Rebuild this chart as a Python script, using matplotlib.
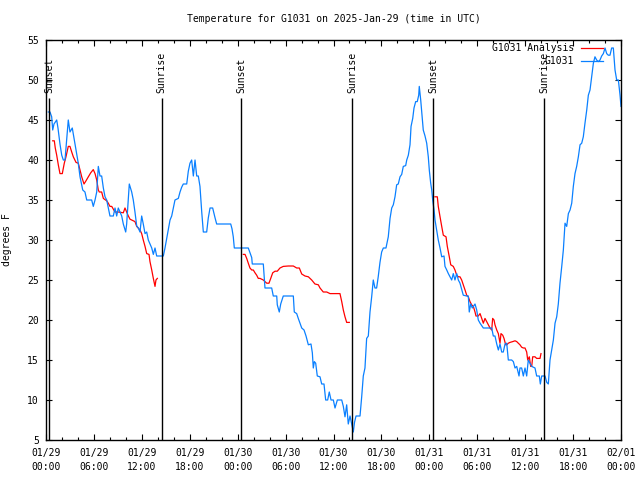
import matplotlib
matplotlib.use("Agg")
import matplotlib.pyplot as plt
from matplotlib.ticker import MultipleLocator, FixedLocator
from matplotlib.lines import Line2D

# ---- data (x in hours since 2025-01-29 00:00 UTC, temperature in deg F) ----
obs_hours = [0.29, 0.5, 0.71, 0.84, 1.0, 1.34, 1.5, 1.75, 1.97, 2.17, 2.38, 2.59, 2.79, 3.0, 3.29, 3.63,
             4.04, 4.26, 4.6, 4.88, 5.1, 5.72, 5.92, 6.14, 6.35, 6.55, 6.76, 6.97, 7.18, 7.39, 7.6, 8.01,
             8.43, 8.64, 8.85, 9.05, 9.48, 9.68, 9.98, 10.1, 10.43, 10.73, 10.93, 11.14, 11.36, 11.56,
             11.77, 11.98, 12.18, 12.4, 12.61, 12.81, 13.02, 13.24, 13.44, 13.65, 13.86, 14.69, 14.9,
             15.31, 15.53, 15.74, 16.15, 16.57, 16.78, 16.99, 17.19, 17.62, 17.82, 18.03, 18.24, 18.45,
             18.66, 18.87, 19.07, 19.28, 19.5, 19.7, 20.12, 20.32, 20.54, 20.87, 21.16, 21.37, 23.13,
             23.29, 23.45, 23.58, 25.33, 25.54, 25.76, 25.83, 27.21, 27.42, 28.26, 28.46, 28.89, 28.96,
             29.21, 29.39, 29.71, 30.97, 31.09, 31.39, 31.59, 31.81, 32.02, 32.31, 32.56, 32.85, 33.18,
             33.35, 33.47, 33.6, 33.77, 33.97, 34.31, 34.52, 34.81, 35.02, 35.27, 35.47, 35.69, 35.98,
             36.19, 36.48, 37.03, 37.23, 37.44, 37.65, 37.85, 38.07, 38.28, 38.48, 38.63, 38.82, 39.32,
             39.53, 39.73, 39.94, 40.15, 40.36, 40.57, 40.78, 40.94, 40.98, 41.19, 41.4, 41.6, 41.82,
             42.03, 42.24, 42.57, 42.86, 43.08, 43.29, 43.49, 43.7, 43.91, 44.11, 44.33, 44.54, 44.74,
             45.04, 45.17, 45.37, 45.58, 45.71, 45.92, 46.08, 46.29, 46.49, 46.67, 46.74, 46.92, 47.05,
             47.24, 47.46, 47.67, 47.87, 48.0, 48.17, 48.3, 48.42, 48.59, 48.71, 48.92, 49.12, 49.34,
             49.55, 49.84, 49.96, 50.18, 50.38, 50.8, 51.0, 51.21, 51.43, 51.63, 51.84, 52.25, 52.68,
             52.88, 53.0, 53.18, 53.38, 53.51, 53.72, 53.93, 54.13, 54.35, 54.76, 55.81, 56.01, 56.22,
             56.44, 56.64, 56.85, 57.06, 57.26, 57.48, 57.69, 57.89, 58.31, 58.52, 58.73, 58.94, 59.23,
             59.35, 59.56, 59.77, 59.98, 60.19, 60.39, 60.61, 60.82, 61.23, 61.44, 61.77, 61.9, 62.07,
             62.49, 62.7, 62.9, 63.11, 63.32, 63.53, 63.74, 63.95, 64.15, 64.36, 64.58, 64.78, 64.99,
             65.2, 65.41, 65.62, 65.83, 66.03, 66.24, 66.45, 66.66, 66.87, 67.08, 67.28, 67.49, 67.71,
             67.91, 68.12, 68.33, 68.54, 68.74, 68.95, 69.16, 69.37, 69.58, 69.79, 70.0, 70.21, 70.41,
             70.62, 70.83, 71.04, 71.25, 71.46, 71.67, 71.88, 72.0]
obs_temps = [46, 46, 45.4, 43.75, 44.5, 45, 44, 42, 40.6, 40, 40, 42.5, 45, 43.5, 44, 42,
             39.6, 37.9, 36.25, 36, 35, 35, 34.2, 35, 36, 39.2, 38, 38, 36.5, 35.4, 35, 33,
             33, 34, 33, 34, 33, 32, 31, 32, 37, 36, 35, 33.5, 31.75, 31.5,
             31, 33, 32, 30.8, 31, 30, 29.5, 29, 28.2, 29, 28, 28, 29,
             31.25, 32.5, 33, 35, 35.2, 36, 36.6, 37, 37, 38.6, 39.6, 40, 38,
             40, 38, 38, 36.7, 33.5, 31, 31, 32.75, 34, 34, 32.8, 32, 32,
             31.4, 30.4, 29, 29, 28.4, 27.8, 27, 27, 24, 24, 23, 23, 21.9,
             21, 22, 23, 23, 21, 20.8, 20.2, 19.6, 19, 18.75, 18, 16.9, 17,
             15.9, 14, 14.8, 14.6, 13, 12.9, 12, 12, 10, 10, 11, 10, 10,
             9, 10, 10, 9.2, 7.9, 9.4, 7, 8, 7, 6, 7.2, 8, 8,
             10.4, 13, 14, 17.7, 18, 21, 22.9, 24.5, 25, 24, 24, 25.4, 27.2,
             28.5, 29, 29, 30.4, 32.7, 34, 34.4, 35.4, 36.9, 37, 37.9, 38.2, 39.2,
             39.3, 40, 40.6, 41.9, 44.2, 45.2, 46.5, 47.3, 47.3, 48.1, 49.2, 47.5, 46,
             43.75, 43, 42.1, 40.4, 38.7, 37.1, 36.25, 35, 33.75, 32.5, 31.25, 30, 29,
             27.9, 28, 26.7, 26.25, 25.8, 25, 25.8, 25, 25.8, 25, 24.6, 23.1, 23,
             23, 21, 22, 21.5, 21.7, 22, 21.25, 20, 19.6, 19, 19, 18, 18,
             17, 16.25, 17, 16, 16, 17, 17.1, 15, 15, 14.8, 14, 14.2, 13,
             14, 14, 13, 14, 13, 15, 14.6, 14.2, 14, 13, 13, 12, 13,
             13, 12.2, 12, 15, 16.25, 17.5, 19.6, 20.4, 22, 24.6, 26.7, 28.75, 32.1,
             31.7, 33.3, 33.75, 34.6, 36.7, 38.3, 39.2, 40.4, 41.9, 42.1, 42.9, 44.6, 46.25,
             48.1, 48.75, 50.4, 52.1, 52.9, 52.5, 52.3, 52.5, 53, 53.3, 54, 53.3, 53.1,
             53.1, 54, 54, 51.25, 50, 50, 48.1, 46.7]

ana1_hours = [0.84, 1.04, 1.16, 1.34, 1.54, 1.75, 2.04, 2.29, 2.5, 2.79, 3.0, 3.22, 3.42, 3.76, 4.04,
              4.26, 4.47, 4.76, 5.01, 5.3, 5.6, 5.92, 6.14, 6.35, 6.55, 6.67, 6.97, 7.18, 7.6, 7.8,
              8.01, 8.23, 8.64, 9.05, 9.68, 9.89, 10.1, 10.31, 10.52, 10.73, 11.14, 11.36, 11.77,
              11.98, 12.18, 12.4, 12.61, 12.9, 13.02, 13.24, 13.44, 13.65, 13.77, 13.94]
ana1_temps = [42.4, 42.4, 41.5, 40.6, 39.4, 38.3, 38.3, 39.6, 40.4, 41.7, 41.7, 41, 40.4, 39.7, 39.6,
              38.75, 37.9, 37, 37.4, 37.9, 38.4, 38.8, 38.3, 37.5, 36.25, 36, 36, 35.2, 34.9, 34.6,
              34.2, 34.2, 33.5, 33.5, 33.4, 34, 33.5, 33, 32.6, 32.5, 32.3, 31.7, 31.25,
              30.8, 30, 29.2, 28.3, 28.2, 27.3, 26.25, 25.2, 24.2, 25, 25.2]

ana2_hours = [24.71, 24.92, 25.13, 25.33, 25.54, 25.76, 25.96, 26.17, 26.38, 26.58, 26.8, 27.21, 27.42,
              27.64, 27.92, 28.14, 28.39, 28.68, 28.96, 29.3, 29.71, 30.34, 30.97, 31.39, 31.72, 32.02,
              32.43, 32.85, 33.27, 33.68, 34.1, 34.31, 34.72, 35.15, 35.56, 36.81, 37.03, 37.23, 37.44,
              37.65, 37.98]
ana2_temps = [28.2, 28.2, 27.7, 27.1, 26.5, 26.25, 26.25, 25.9, 25.6, 25.2, 25.2, 25, 24.8,
              24.6, 24.6, 25.2, 25.9, 26.1, 26.1, 26.5, 26.7, 26.75, 26.75, 26.5, 26.5, 25.75,
              25.5, 25.4, 25, 24.5, 24.4, 24, 23.5, 23.5, 23.3, 23.3, 22.3, 21.25, 20.4,
              19.7, 19.7]

ana3_hours = [48.71, 49.0, 49.12, 49.34, 49.55, 49.75, 50.09, 50.25, 50.5, 50.68, 51.0, 51.21, 51.43,
              51.63, 51.84, 52.05, 52.25, 52.47, 52.68, 52.88, 53.09, 53.3, 53.51, 53.72, 53.84, 54.13,
              54.35, 54.56, 54.76, 54.97, 55.18, 55.39, 55.6, 55.81, 55.93, 56.1, 56.22, 56.44, 56.64,
              56.85, 56.97, 57.19, 57.35, 57.56, 57.69, 57.89, 58.1, 58.44, 58.73, 58.94, 59.14, 59.35,
              59.56, 59.77, 59.98, 60.19, 60.32, 60.52, 60.69, 60.82, 60.94, 61.23, 61.44, 61.86, 61.98]
ana3_temps = [35.4, 35.4, 34.2, 32.9, 31.7, 30.6, 30.4, 29.2, 27.9, 26.9, 26.7, 26.25, 25.6,
              25.4, 25.4, 25, 24.4, 23.75, 23.1, 22.9, 22.3, 21.9, 21.7, 21, 20.5, 20.5,
              20.8, 20.2, 19.6, 20.2, 19.8, 19.4, 19, 18.75, 20.2, 20, 19.4, 18.75, 18.3,
              17.1, 18.3, 18.1, 17.7, 16.9, 16.9, 17.1, 17.2, 17.3, 17.4, 17.3, 17.1, 16.9,
              16.6, 16.5, 16.5, 16, 15, 15.4, 14.2, 14.2, 15.4, 15.4, 15.2, 15.2, 15.8]

event_hours = [0.41, 14.49, 24.42, 38.36, 48.5, 62.4]
event_labels = ["Sunset", "Sunrise", "Sunset", "Sunrise", "Sunset", "Sunrise"]

xtick_hours = [0, 6, 12, 18, 24, 30, 36, 42, 48, 54, 60, 66, 72]
xtick_labels = ["01/29\n00:00", "01/29\n06:00", "01/29\n12:00", "01/29\n18:00",
                "01/30\n00:00", "01/30\n06:00", "01/30\n12:00", "01/30\n18:00",
                "01/31\n00:00", "01/31\n06:00", "01/31\n12:00", "01/31\n18:00",
                "02/01\n00:00"]

title = "Temperature for G1031 on 2025-Jan-29 (time in UTC)"

# ---- drawing ----
FONT = "DejaVu Sans Mono"
FS = 7
plt.rcParams["font.family"] = [FONT]
plt.rcParams["font.size"] = FS

RED = "#ff0000"
BLUE = "#0a80ff"

fig = plt.figure(figsize=(6.4, 4.8), dpi=100)
ax = fig.add_axes([46 / 640, 40 / 480, 575 / 640, 400 / 480])

ax.set_xlim(0, 72)
ax.set_ylim(5, 55)

for seg_h, seg_t in [(ana1_hours, ana1_temps), (ana2_hours, ana2_temps), (ana3_hours, ana3_temps)]:
    ax.plot(seg_h, seg_t, color=RED, lw=0.9)
ax.plot(obs_hours, obs_temps, color=BLUE, lw=0.9)

for h, lab in zip(event_hours, event_labels):
    ax.vlines(h, 5, 47.75, color="black", lw=1.0)
    ax.text(h, 48.4, lab, rotation=90, ha="center", va="bottom", fontsize=FS)

ax.xaxis.set_major_locator(FixedLocator(xtick_hours))
ax.set_xticklabels(xtick_labels)
ax.xaxis.set_minor_locator(MultipleLocator(2))
ax.yaxis.set_major_locator(MultipleLocator(5))
for lbl in ax.get_xticklabels():
    lbl.set_linespacing(1.45)

ax.tick_params(which="both", direction="in", top=True, right=True, color="black")
ax.tick_params(which="major", length=4, width=0.8)
ax.tick_params(which="minor", length=2.5, width=0.8)
ax.tick_params(axis="x", which="major", pad=6)
ax.tick_params(axis="y", which="major", pad=5)
for s in ax.spines.values():
    s.set_linewidth(1.0)

ax.set_ylabel("degrees F", fontsize=FS)
ax.yaxis.set_label_coords(-0.059, 0.5)

fig.text(333.5 / 640, 1 - 19 / 480, title, ha="center", va="center", fontsize=FS)

handles = [Line2D([], [], color=RED, lw=0.9), Line2D([], [], color=BLUE, lw=0.9)]
ax.legend(handles, ["G1031 Analysis", "G1031"], loc="upper right", frameon=False,
          markerfirst=False, handlelength=2.3, handletextpad=0.7, labelspacing=0.35,
          borderpad=0, borderaxespad=0, bbox_to_anchor=((603 - 46) / 575, (440 - 43) / 400),
          fontsize=FS)

fig.savefig("out.png", dpi=100)
